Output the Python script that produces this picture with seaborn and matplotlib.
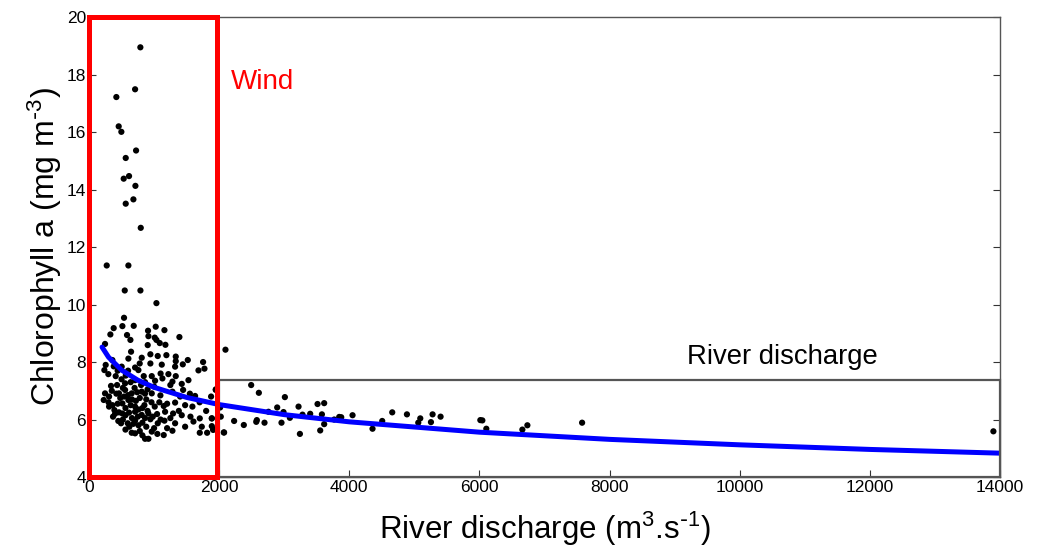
import matplotlib
matplotlib.use("Agg")
import matplotlib.pyplot as plt
import seaborn as sns
import pandas as pd
from matplotlib.patches import Rectangle

# ---------------- data ----------------
high_x = [789, 708, 420, 456, 497, 723, 564, 615, 533, 713, 682, 564, 795,
          272, 605, 549, 790, 1036, 2097]
high_y = [18.95, 17.49, 17.22, 16.20, 16.01, 15.36, 15.10, 14.47, 14.38, 14.13,
          13.66, 13.51, 12.67, 11.36, 11.36, 10.49, 10.49, 10.05, 8.43]

cluster_x = [538, 379, 328, 513, 687, 584, 636, 907, 1025, 1159, 913, 1010, 1036,
             1087, 1174, 902, 1389, 246, 646, 943, 1056, 1189, 810, 605, 359, 1333,
             1333, 1518, 1753, 1774, 1682, 1441, 1323, 1118, 943, 779, 708, 502, 256,
             236, 297, 410, 564, 759, 841, 964, 1128, 1220, 1333, 1528, 1425, 1282,
             1015, 861, 708, 554, 431, 338, 246, 308, 461, 554, 656, 810, 964, 1097,
             1282, 1446, 1630, 1876, 1948, 226, 308, 390, 369, 513, 605, 708, 851,
             1010, 1148, 1323, 1477, 1589, 513, 615, 708, 810, 913, 1046, 1169, 1292,
             1425, 1559, 1702, 1887, 492, 595, 708, 820, 943, 1056, 1159, 1323, 1477,
             1605, 1733, 1907, 656, 708, 964, 1148, 1282, 861, 913, 1702, 1815, 1887,
             350, 420, 480, 540, 600, 660, 720, 780, 880, 300, 360, 440, 560, 640, 760,
             820, 900, 960, 1080, 1200, 400, 460, 560, 660, 750, 860, 980, 1100, 1250,
             1380, 450, 520, 620, 680, 760, 880, 1000, 1200, 560, 780, 820, 1050, 700,
             800, 900, 1000, 640, 500, 440, 380, 600, 1100, 1250, 1400, 1550, 1700,
             1800, 520, 860, 740, 1949, 1887, 1912]
cluster_y = [9.54, 9.18, 8.96, 9.25, 9.26, 8.94, 8.77, 9.09, 9.23, 9.11, 8.90, 8.85,
             8.77, 8.66, 8.60, 8.59, 8.87, 8.63, 8.36, 8.27, 8.21, 8.24, 8.15, 8.12,
             8.07, 8.19, 8.03, 8.07, 8.00, 7.77, 7.71, 7.92, 7.84, 7.91, 7.95, 7.95,
             7.81, 7.84, 7.90, 7.72, 7.58, 7.51, 7.53, 7.72, 7.51, 7.51, 7.43, 7.58,
             7.51, 7.37, 7.24, 7.32, 7.35, 7.30, 7.37, 7.26, 7.20, 7.17, 6.91, 6.80,
             6.91, 7.03, 6.91, 6.97, 6.91, 6.84, 6.97, 7.03, 6.82, 6.80, 7.03, 6.68,
             6.45, 6.33, 6.10, 6.56, 6.68, 6.45, 6.50, 6.45, 6.47, 6.59, 6.50, 6.45,
             6.21, 6.24, 6.27, 6.16, 6.21, 6.19, 6.27, 6.21, 6.15, 6.10, 6.04, 6.04,
             5.87, 5.87, 5.96, 5.89, 6.01, 5.87, 5.96, 5.87, 5.75, 5.93, 5.75, 5.64,
             5.54, 5.52, 5.58, 5.46, 5.61, 5.33, 5.33, 5.54, 5.54, 5.77,
             7.00, 6.90, 6.75, 6.80, 6.85, 6.70, 6.65, 6.75, 6.70, 6.60, 6.50, 6.55,
             6.40, 6.50, 6.35, 6.40, 6.30, 6.60, 6.60, 6.55, 6.20, 6.25, 6.15, 6.05,
             6.10, 6.05, 6.10, 6.00, 6.05, 6.30, 5.95, 6.00, 5.75, 5.85, 5.80, 5.75,
             5.70, 5.70, 5.65, 5.60, 5.45, 5.50, 7.10, 7.20, 7.05, 7.15, 7.30, 7.40,
             7.70, 7.85, 7.70, 7.60, 7.20, 6.80, 6.90, 6.60, 6.30, 7.10, 6.90, 6.95,
             7.05, 6.04, 5.66]

river_x = [2492, 2610, 3010, 2015, 2230, 2379, 2076, 2579, 2570, 2697, 2758, 2892,
           2989, 2958, 3087, 3220, 3281, 3399, 3241, 3512, 3614, 3579, 3614, 3553,
           3768, 3845, 3876, 4050, 4357, 4506, 4660, 4886, 5091, 5060, 5280, 5255,
           5403, 6014, 6045, 6106, 6660, 6737, 7578, 13899, 2025, 2071]
river_y = [7.20, 6.93, 6.78, 6.42, 5.95, 5.81, 5.55, 5.98, 5.92, 5.89, 6.27, 6.42,
           6.26, 5.89, 6.06, 6.45, 6.17, 6.20, 5.50, 6.54, 6.57, 6.18, 5.84, 5.62,
           6.00, 6.09, 6.08, 6.15, 5.68, 5.95, 6.25, 6.18, 6.04, 5.89, 6.18, 5.91,
           6.10, 5.98, 5.97, 5.68, 5.65, 5.80, 5.89, 5.59, 6.10, 5.55]

fit_x = [200, 300, 500, 750, 1000, 1500, 2000, 3000, 4000, 6000, 8000, 10000,
         12000, 14000]
fit_y = [8.52, 8.17, 7.72, 7.37, 7.12, 6.77, 6.52, 6.17, 5.92, 5.56, 5.31, 5.12,
         4.96, 4.83]

x_ticks = [0, 2000, 4000, 6000, 8000, 10000, 12000, 14000]
y_ticks = [4, 6, 8, 10, 12, 14, 16, 18, 20]

wind_box = (0, 1960, 4, 20)           # x0, x1, y0, y1
river_box = (2000, 14000, 4, 7.37)
wind_label = "Wind"
river_label = "River discharge"

# ---------------- plotting ----------------
sns.set_theme(style="white")
plt.rcParams['font.family'] = ['Liberation Sans', 'DejaVu Sans']
plt.rcParams['mathtext.default'] = 'regular'

pts = pd.DataFrame({
    "discharge": high_x + cluster_x + river_x,
    "chl": high_y + cluster_y + river_y,
})
fit = pd.DataFrame({"discharge": fit_x, "chl": fit_y})

fig = plt.figure(figsize=(10.4, 5.53), dpi=100)
ax = fig.add_axes([0.0856, 0.1374, 0.8759, 0.8316])

sns.scatterplot(data=pts, x="discharge", y="chl", ax=ax, color="black",
                s=20, edgecolor="none", zorder=3)
sns.lineplot(data=fit, x="discharge", y="chl", ax=ax, color="#0000ff",
             linewidth=3.6, zorder=4, sort=True)

ax.set_xlim(0, 14000)
ax.set_ylim(4, 20)
ax.set_xticks(x_ticks)
ax.set_yticks(y_ticks)
ax.set_xticklabels([str(t) for t in x_ticks])
ax.set_yticklabels([str(t) for t in y_ticks])
ax.tick_params(axis="both", direction="in", length=5, width=0.8, color="#333333",
               labelsize=12.5, pad=2, labelcolor="black")
ax.tick_params(axis="y", right=True, left=True)
ax.tick_params(axis="x", bottom=True)

for s in ax.spines.values():
    s.set_color("#555555")
    s.set_linewidth(1.0)

ax.set_xlabel(r"River discharge (m$^{3}$.s$^{\text{-}1}$)", fontsize=22.5,
              labelpad=11, color="black")
ax.set_ylabel(r"Chlorophyll a (mg m$^{\text{-}3}$)", fontsize=23, labelpad=2,
              color="black")

# annotation boxes
ax.add_patch(Rectangle((river_box[0], river_box[2]), river_box[1] - river_box[0],
                       river_box[3] - river_box[2], fill=False, edgecolor="#555555",
                       linewidth=1.6, zorder=5, clip_on=False))
ax.add_patch(Rectangle((wind_box[0], wind_box[2]), wind_box[1] - wind_box[0],
                       wind_box[3] - wind_box[2], fill=False, edgecolor="#ff0000",
                       linewidth=3.6, zorder=6, clip_on=False))

ax.text(2184, 17.74, wind_label, color="#ff0000", fontsize=20, va="center", ha="left")
ax.text(9197, 8.17, river_label, color="black", fontsize=19.8, va="center", ha="left")

fig.savefig("out.png", dpi=100, facecolor="white")
